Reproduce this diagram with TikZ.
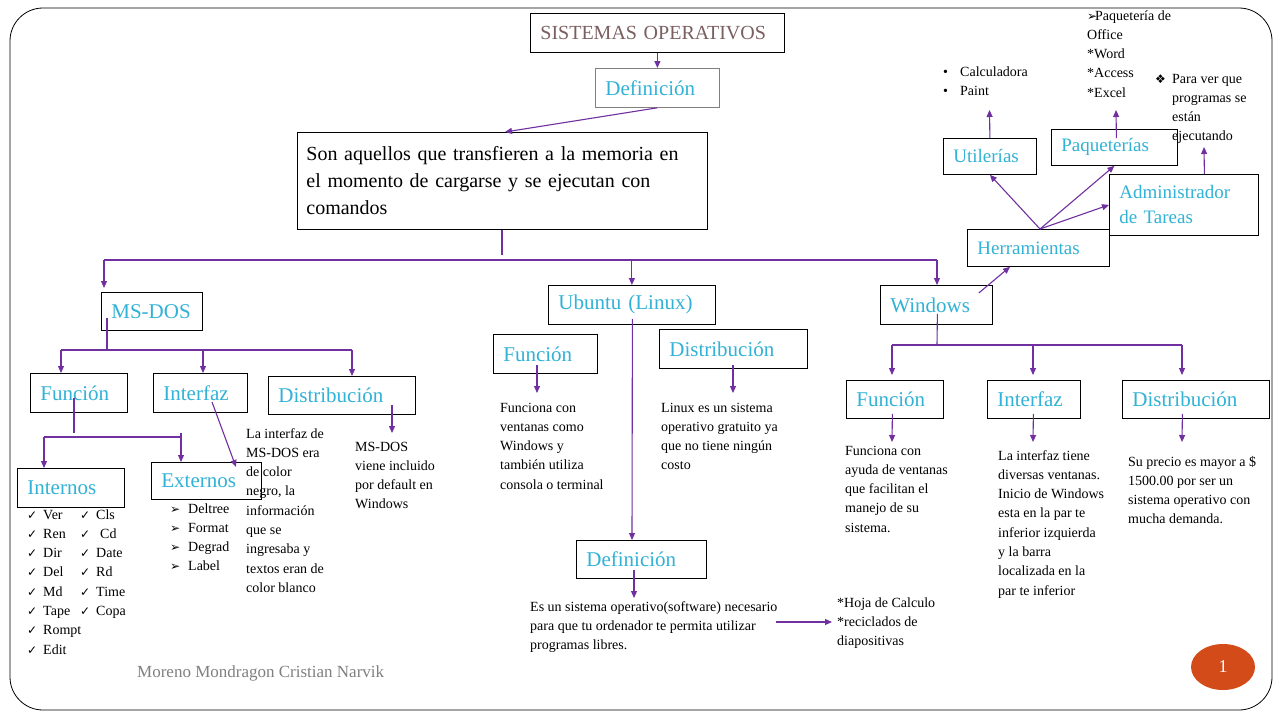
\documentclass[tikz,border=0pt]{standalone}
\usepackage{fontspec}
\setmainfont{Liberation Serif}
\newfontfamily\symf{DejaVu Sans}
\usetikzlibrary{arrows.meta,calc,shapes.geometric}
\definecolor{cyanT}{RGB}{49,178,214}
\definecolor{purp}{RGB}{112,48,160}
\definecolor{titleT}{RGB}{122,96,96}
\definecolor{pgOrange}{RGB}{210,75,25}
\definecolor{grayT}{RGB}{128,128,128}
\newcommand{\mytab}[1]{\begin{tabular}[t]{@{}l@{}}#1\end{tabular}}
\newcommand{\ck}{\makebox[16pt][l]{\symf\fontsize{12}{12}\selectfont ✓}}
\newcommand{\arw}[1]{\makebox[#1][l]{\symf\fontsize{12}{12}\selectfont ➢}}
\begin{document}
\begin{tikzpicture}[x=1pt,y=-1pt,
  arr/.style={draw=purp, line width=1.1pt, -{Triangle[length=7pt,width=6pt]}},
  ln/.style={draw=purp, line width=1.1pt},
  box/.style={draw=black, line width=0.8pt, rectangle, anchor=north west, inner xsep=10pt, inner ysep=0pt, align=left, text=cyanT, font=\fontsize{21}{25}\selectfont},
  sbox/.style={box, font=\fontsize{19}{25}\selectfont},
  txt/.style={anchor=base west, inner sep=0pt, font=\fontsize{14}{19.3}\selectfont, text=black}]
\useasboundingbox (0,0) rectangle (1280,720);
\fill[white] (0,0) rectangle (1280,720);
\draw[line width=0.8pt, rounded corners=33pt] (10,8) rectangle (1272,710);

% boxes
\node[box, text=titleT, font=\fontsize{20}{24}\selectfont, text width=234pt, minimum height=39pt] (sis) at (530,13) {SISTEMAS OPERATIVOS};
\node[box, draw=grayT, text width=104pt, minimum height=39pt] (def) at (595,68) {Definición};
\node[box, text=black, font=\fontsize{20}{27}\selectfont, text width=392pt, inner xsep=9pt, minimum height=97pt] (main) at (297,132) {Son aquellos que transfieren a la memoria en\\el momento de cargarse y se ejecutan con\\comandos};
\node[box, text width=81pt, minimum height=38pt] (msdos) at (101,292) {MS-DOS};
\node[box, text width=147pt, minimum height=39pt] (ubuntu) at (548,285) {Ubuntu (Linux)};
\node[box, text width=92pt, minimum height=39pt] (windows) at (880,285) {Windows};
\node[sbox, text width=122pt, minimum height=37pt] (herr) at (967,229) {Herramientas};
\node[sbox, text width=73pt, minimum height=36pt] (util) at (943,138) {Utilerías};
\node[sbox, text width=106pt, minimum height=36pt] (paq) at (1051,129) {Paqueterías};
\node[sbox, text width=129pt, minimum height=61pt] (admin) at (1109,174) {Administrador\\de Tareas};
\node[box, text width=77pt, minimum height=39pt] (func1) at (30,373) {Función};
\node[box, text width=74pt, minimum height=39pt] (int1) at (153,373) {Interfaz};
\node[box, text width=127pt, minimum height=38pt] (dist1) at (268,376) {Distribución};
\node[box, text width=87pt, minimum height=39pt] (intern) at (17,468) {Internos};
\node[box, text width=90pt, minimum height=37pt] (extern) at (151,462) {Externos};
\node[box, text width=84pt, minimum height=39pt] (func2) at (493,334) {Función};
\node[box, text width=128pt, minimum height=39pt] (dist2) at (659,329) {Distribución};
\node[box, text width=110pt, minimum height=38pt] (def2) at (576,540) {Definición};
\node[box, text width=77pt, minimum height=38pt] (func3) at (846,380) {Función};
\node[box, text width=73pt, minimum height=38pt] (int3) at (987,380) {Interfaz};
\node[box, text width=127pt, minimum height=38pt] (dist3) at (1122,380) {Distribución};

% texts
\node[txt] (calc) at (943,76) {\mytab{\makebox[17pt][l]{•}Calculadora\\\makebox[17pt][l]{•}Paint}};
\node[txt] (paqt) at (1087,20) {\mytab{\arw{8pt}Paquetería de\\Office\\{*}Word\\{*}Access\\{*}Excel}};
\node[txt] (admt) at (1155,83) {\begin{tabular}[t]{@{}p{17pt}@{}l@{}}{\symf\fontsize{12}{12}\selectfont ❖} & Para ver que\\ & programas se\\ & están\\ & ejecutando\end{tabular}};
\node[txt] (int1t) at (246,438) {\mytab{La interfaz de\\MS-DOS era\\de color\\negro, la\\información\\que se\\ingresaba y\\textos eran de\\color blanco}};
\node[txt] (dist1t) at (355,451) {\mytab{MS-DOS\\viene incluido\\por default en\\Windows}};
\node[txt] (chk) at (27,519) {\begin{tabular}[t]{@{}p{53pt}@{}l@{}}\ck Ver & \ck Cls\\ \ck Ren & \ck\hspace{4pt}Cd\\ \ck Dir & \ck Date\\ \ck Del & \ck Rd\\ \ck Md & \ck Time\\ \ck Tape & \ck Copa\\ \ck Rompt & \\ \ck Edit & \end{tabular}};
\node[txt] (extt) at (170,513) {\mytab{\arw{18pt}Deltree\\\arw{18pt}Format\\\arw{18pt}Degrad\\\arw{18pt}Label}};
\node[txt] (func2t) at (500,412) {\mytab{Funciona con\\ventanas como\\Windows y\\también utiliza\\consola o terminal}};
\node[txt] (dist2t) at (661,412) {\mytab{Linux es un sistema\\operativo gratuito ya\\que no tiene ningún\\costo}};
\node[txt] (def2t) at (530,611) {\mytab{Es un sistema operativo(software) necesario\\para que tu ordenador te permita utilizar\\programas libres.}};
\node[txt] (hoja) at (837,607) {\mytab{{*}Hoja de Calculo\\{*}reciclados de\\diapositivas}};
\node[txt] (func3t) at (845,455) {\mytab{Funciona con\\ayuda de ventanas\\que facilitan el\\manejo de su\\sistema.}};
\node[txt] (int3t) at (998,460) {\mytab{La interfaz tiene\\diversas ventanas.\\Inicio de Windows\\esta en la par te\\inferior izquierda\\y la barra\\localizada en la\\par te inferior}};
\node[txt] (dist3t) at (1128,466) {\mytab{Su precio es mayor a \$\\1500.00 por ser un\\sistema operativo con\\mucha demanda.}};
\node[txt, text=grayT, font=\fontsize{17}{20}\selectfont] (author) at (137,677) {Moreno Mondragon Cristian Narvik};
\node[ellipse, fill=pgOrange, minimum width=64pt, minimum height=46pt, inner sep=0pt, text=white, font=\fontsize{18}{18}\selectfont] (pg) at (1223,667) {1};

% connectors: top
\draw[arr] (sis.south) -- (def.north);
\draw[arr] (def.south) -- ($(main.north west)+(208,0)$);
\coordinate (stemE) at (502,255);
\draw[ln] ($(main.south west)+(205,0)$) -- (stemE);
\coordinate (bL) at (104,260);
\coordinate (bR) at (937,260);
\draw[ln] (bL) -- (bR);
\draw[arr, shorten >=4pt] (bL) -- (bL |- msdos.north);
\draw[arr] (ubuntu.north |- bL) -- (ubuntu.north);
\draw[arr] (bR) -- (bR |- windows.north);

% herramientas
\draw[arr] ($(windows.north east)+(-14,8)$) -- ($(herr.south west)+(43,0)$);
\coordinate (hT) at ($(herr.north west)+(73,0)$);
\draw[arr] (hT) -- (util.south);
\draw[arr] (hT) -- (paq.south);
\draw[arr] (hT) -- (admin.west);
\coordinate (uT) at (989.5,110);
\draw[arr] (util.north) -- (uT);
\coordinate (pT) at (1116,110);
\draw[arr] ($(paq.north)+(2,9)$) -- (pT);
\coordinate (aT) at (1204,147);
\draw[arr] ($(admin.north)+(20.5,0)$) -- (aT);

% MS-DOS
\coordinate (mC) at (107,350);
\coordinate (mL) at (61,350);
\coordinate (mI) at (203,350);
\coordinate (mR) at (352,350);
\draw[ln] ($(msdos.north west)+(6,26)$) -- (mC);
\draw[ln] (mL) -- (mR);
\draw[arr] (mL) -- (mL |- func1.north);
\draw[arr] (mI) -- (mI |- int1.north);
\draw[arr] (mR) -- (mR |- dist1.north);
\coordinate (f1) at (74,433);
\coordinate (fL) at (44,437);
\coordinate (fR) at (181,437);
\coordinate (fRt) at (181,433);
\draw[ln] ($(func1.north west)+(44,25)$) -- (f1);
\draw[ln] (fL) -- (fR);
\draw[arr] (fL) -- (fL |- intern.north);
\draw[arr] (fRt) -- (fRt |- extern.north);
\coordinate (iE) at (236,467);
\draw[arr] ($(int1.north west)+(59,29)$) -- (iE);
\coordinate (dE) at (392,433);
\draw[arr] ($(dist1.north west)+(124,29)$) -- (dE);

% Ubuntu
\draw[arr] ($(ubuntu.south)+(0.5,-6)$) -- ($(def2.north west)+(56,0)$);
\coordinate (u1) at (537,393);
\draw[arr] ($(func2.north west)+(44,31)$) -- (u1);
\coordinate (u2) at (733,393);
\draw[arr] ($(dist2.north west)+(74,36)$) -- (u2);
\coordinate (u3) at (634,598);
\draw[arr] ($(def2.north west)+(58,30)$) -- (u3);
\coordinate (e1) at (776,622);
\coordinate (e2) at (832,622);
\draw[arr] (e1) -- (e2);

% Windows
\coordinate (wC) at (937,345);
\coordinate (wL) at (892,345);
\coordinate (wM) at (1033,345);
\coordinate (wR) at (1182,345);
\draw[ln] ($(windows.south)+(1,-11)$) -- (wC);
\draw[ln] (wL) -- (wR);
\draw[arr, shorten >=5pt] (wL) -- (wL |- func3.north);
\draw[arr, shorten >=5pt] (wM) -- (wM |- int3.north);
\draw[arr, shorten >=5pt] (wR) -- (wR |- dist3.north);
\coordinate (w1) at (892,442);
\coordinate (w2) at (1033,442);
\coordinate (w3) at (1182,442);
\draw[arr] ($(func3.south)+(-2.5,-5)$) -- (w1);
\draw[arr] ($(int3.south)+(-0.5,-5)$) -- (w2);
\draw[arr] ($(dist3.south)+(-13.5,-5)$) -- (w3);
\end{tikzpicture}
\end{document}
